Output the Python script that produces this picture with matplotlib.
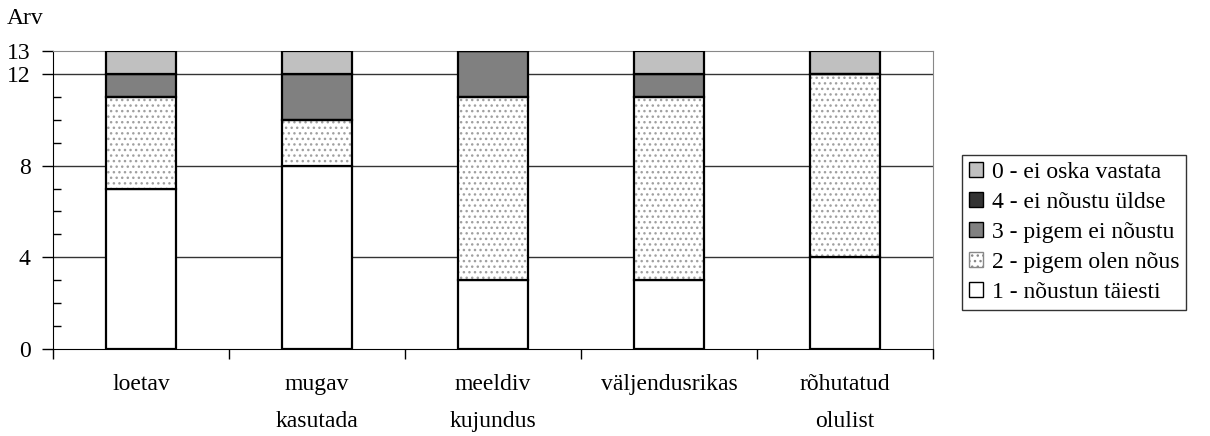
import matplotlib.pyplot as plt
from matplotlib.patches import Patch
import numpy as np

plt.rcParams['font.family'] = ['Liberation Serif', 'DejaVu Serif']
plt.rcParams['hatch.linewidth'] = 1.0

categories = ["loetav", "mugav\nkasutada", "meeldiv\nkujundus", "väljendusrikas", "rõhutatud\nolulist"]
s1 = [7, 8, 3, 3, 4]   # 1 - nõustun täiesti
s2 = [4, 2, 8, 8, 8]   # 2 - pigem olen nõus
s3 = [1, 2, 2, 1, 0]   # 3 - pigem ei nõustu
s4 = [0, 0, 0, 0, 0]   # 4 - ei nõustu üldse
s0 = [1, 1, 0, 1, 1]   # 0 - ei oska vastata
labels = ["1 - nõustun täiesti", "2 - pigem olen nõus", "3 - pigem ei nõustu",
          "4 - ei nõustu üldse", "0 - ei oska vastata"]

fig = plt.figure(figsize=(12.1, 4.36), dpi=100)
ax = fig.add_axes([53 / 1210, 87 / 436, 880 / 1210, 298 / 436])

x = np.arange(len(categories))
w = 0.4
bottom = np.zeros(len(x))

series = [s1, s2, s3, s4, s0]
colors = ["white", "white", "#808080", "#333333", "#c0c0c0"]
for i, (vals, c) in enumerate(zip(series, colors)):
    vals = np.array(vals, dtype=float)
    if i == 1:
        ax.bar(x, vals, w, bottom=bottom, color="white", edgecolor="#a0a0a0",
               hatch="...", linewidth=0, zorder=3)
        ax.bar(x, vals, w, bottom=bottom, fill=False, edgecolor="black",
               linewidth=1.6, zorder=4)
    else:
        ax.bar(x, vals, w, bottom=bottom, color=c, edgecolor="black",
               linewidth=1.6, zorder=3)
    bottom += vals

ax.set_xlim(-0.5, 4.5)
ax.set_ylim(0, 13)
ax.set_yticks([0, 4, 8, 12, 13])
ax.set_yticks(range(14), minor=True)
ax.tick_params(axis='y', which='major', direction='out', length=8, width=1, labelsize=17, pad=8)
ax.tick_params(axis='y', which='minor', direction='in', length=6, width=1)
for yv in [4, 8, 12]:
    ax.axhline(yv, color="#333333", linewidth=1, zorder=1)

ax.set_xticks(x)
ax.set_xticklabels(categories, fontsize=17, linespacing=2.0)
ax.tick_params(axis='x', which='major', length=0, pad=18)
ax.set_xticks(np.arange(-0.5, 5, 1), minor=True)
ax.tick_params(axis='x', which='minor', direction='out', length=7, width=1)

for side in ['top', 'right']:
    ax.spines[side].set_color('#888888')
for side in ['left', 'bottom']:
    ax.spines[side].set_color('black')

fig.text(7 / 1210, 1 - 18 / 436, "Arv", fontsize=17, va='center', ha='left')

handles = [
    Patch(facecolor="#c0c0c0", edgecolor="black", label=labels[4]),
    Patch(facecolor="#333333", edgecolor="black", label=labels[3]),
    Patch(facecolor="#808080", edgecolor="black", label=labels[2]),
    Patch(facecolor="white", edgecolor="#888888", hatch="...", label=labels[1]),
    Patch(facecolor="white", edgecolor="black", label=labels[0]),
]
leg = fig.legend(handles=handles, loc='upper left', bbox_to_anchor=(962 / 1210, 1 - 155 / 436),
                 fontsize=17, frameon=True, fancybox=False, edgecolor='black',
                 handlelength=0.6, handleheight=0.6, handletextpad=0.35,
                 labelspacing=0.38, borderpad=0.3, borderaxespad=0)
leg.get_frame().set_linewidth(1)

fig.savefig("out.png", dpi=100)
